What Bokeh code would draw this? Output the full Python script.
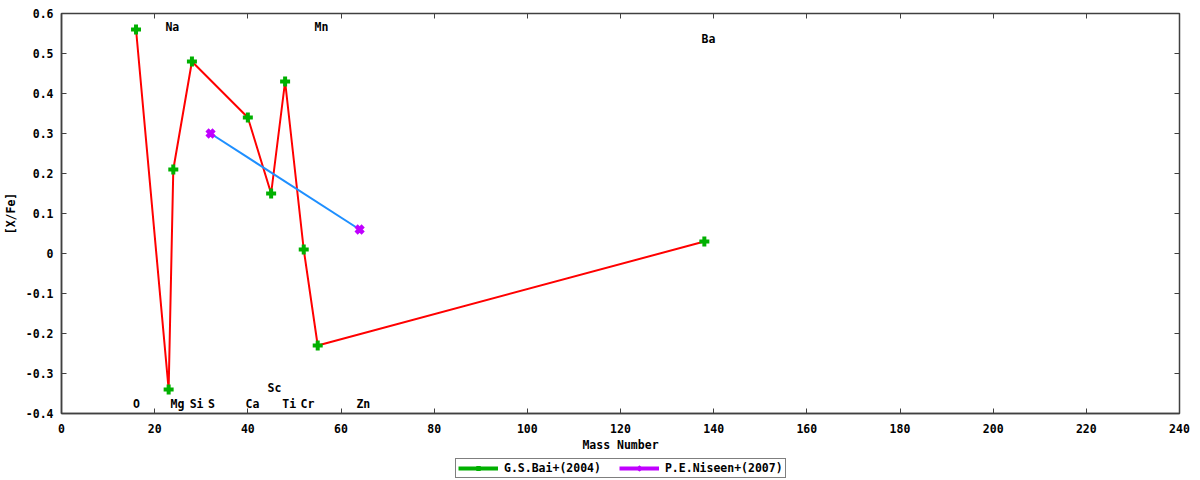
from bokeh.plotting import figure
from bokeh.layouts import column
from bokeh.models import FixedTicker, LinearAxis, Legend, LegendItem, Range1d
from bokeh.core.properties import value
from bokeh.embed import file_html
from bokeh.resources import INLINE

# G.S.Bai+(2004)
bai_mass = [16, 23, 24, 28, 40, 45, 48, 52, 55, 138]
bai_xfe = [0.56, -0.34, 0.21, 0.48, 0.34, 0.15, 0.43, 0.01, -0.23, 0.03]

# P.E.Niseen+(2007)
nis_mass = [32, 64]
nis_xfe = [0.30, 0.06]

# element labels (mass number, [X/Fe] position)
elem_names = ["O", "Na", "Mg", "Si", "S", "Ca", "Sc", "Ti", "Cr", "Mn", "Zn", "Ba"]
elem_x = [16.1, 23.8, 24.9, 29.0, 32.2, 41.0, 45.7, 48.9, 52.8, 55.8, 64.8, 138.9]
elem_y = [-0.375, 0.5675, -0.375, -0.375, -0.375, -0.375, -0.335, -0.375, -0.375, 0.5675, -0.375, 0.5375]

x_ticks = [0, 20, 40, 60, 80, 100, 120, 140, 160, 180, 200, 220, 240]
y_ticks = [-0.4, -0.3, -0.2, -0.1, 0, 0.1, 0.2, 0.3, 0.4, 0.5, 0.6]
y_tick_labels = ["-0.4", "-0.3", "-0.2", "-0.1", "0", "0.1", "0.2", "0.3", "0.4", "0.5", "0.6"]

FONT = "DejaVu Sans Mono"
FS = "11.5px"
GREEN = "#00b000"
MAGENTA = "#c000ff"

p = figure(width=1200, height=457, output_backend="svg", toolbar_location=None,
           x_range=Range1d(0, 240), y_range=Range1d(-0.4, 0.6),
           min_border_left=61, min_border_right=21, min_border_top=13, min_border_bottom=44,
           background_fill_color="white", border_fill_color="white")
p.grid.visible = False
p.outline_line_color = "#404040"
p.outline_line_width = 1.5

for ax in (p.xaxis[0], p.yaxis[0]):
    ax.major_tick_in = 5
    ax.major_tick_out = 0
    ax.minor_tick_line_color = None
    ax.axis_line_color = "#404040"
    ax.axis_line_width = 1.5
    ax.major_tick_line_color = "#404040"
    ax.major_label_text_font = FONT
    ax.major_label_text_font_style = "bold"
    ax.major_label_text_font_size = FS
    ax.major_label_text_color = "black"
    ax.axis_label_text_font = FONT
    ax.axis_label_text_font_style = "bold"
    ax.axis_label_text_font_size = FS
    ax.axis_label_text_color = "black"

p.xaxis[0].ticker = FixedTicker(ticks=x_ticks)
p.xaxis[0].axis_label = "Mass Number"
p.xaxis[0].major_label_standoff = 10
p.xaxis[0].axis_label_standoff = 2
p.yaxis[0].ticker = FixedTicker(ticks=y_ticks)
p.yaxis[0].major_label_overrides = {t: l for t, l in zip(y_ticks, y_tick_labels)}
p.yaxis[0].major_label_standoff = 8
p.yaxis[0].axis_label = "[X/Fe]"
p.yaxis[0].axis_label_standoff = 5

top = LinearAxis(ticker=FixedTicker(ticks=x_ticks), major_label_text_font_size="0px",
                 major_label_standoff=0,
                 major_tick_in=5, major_tick_out=0, minor_tick_line_color=None,
                 axis_line_color=None, major_tick_line_color="#404040")
right = LinearAxis(ticker=FixedTicker(ticks=y_ticks), major_label_text_font_size="0px",
                   major_label_standoff=0,
                   major_tick_in=5, major_tick_out=0, minor_tick_line_color=None,
                   axis_line_color=None, major_tick_line_color="#404040")
p.add_layout(top, "above")
p.add_layout(right, "right")

# connecting lines
p.line(bai_mass, bai_xfe, line_color="#ff0000", line_width=2)
p.line(nis_mass, nis_xfe, line_color="#1e8fff", line_width=2)

# markers
p.scatter(bai_mass, bai_xfe, marker="cross", size=10, line_width=4, line_color=GREEN)
p.scatter(nis_mass, nis_xfe, marker="x", size=10, line_width=4.5, line_color=MAGENTA)

# element labels
p.text(x=elem_x, y=elem_y, text=elem_names, text_align="center", text_baseline="middle",
       text_font=value(FONT), text_font_style="bold", text_font_size=FS, text_color="black")

# legend strip
lg = figure(width=1200, height=23, output_backend="svg", toolbar_location=None,
            x_axis_location=None, y_axis_location=None,
            min_border_left=0, min_border_right=0, min_border_top=0, min_border_bottom=0,
            background_fill_color="white", border_fill_color="white")
lg.grid.visible = False
lg.outline_line_color = None
bai_l = lg.line(bai_mass, bai_xfe, line_color=GREEN, line_width=4, visible=False)
bai_s = lg.scatter(bai_mass, bai_xfe, marker="cross", size=10, line_width=4,
                   line_color=GREEN, visible=False)
nis_l = lg.line(nis_mass, nis_xfe, line_color=MAGENTA, line_width=4, visible=False)
nis_s = lg.scatter(nis_mass, nis_xfe, marker="x", size=10, line_width=4,
                   line_color=MAGENTA, visible=False)

legend = Legend(items=[LegendItem(label="G.S.Bai+(2004)", renderers=[bai_l, bai_s]),
                       LegendItem(label="P.E.Niseen+(2007)", renderers=[nis_l, nis_s])],
                orientation="horizontal", location=(394, 2),
                label_text_font=FONT, label_text_font_style="bold", label_text_font_size=FS,
                label_text_color="black",
                glyph_width=40, glyph_height=12, label_height=12, padding=2, spacing=18,
                margin=0, border_line_color="black", border_line_width=1, label_standoff=6,
                background_fill_alpha=1.0)
lg.add_layout(legend, "center")

open("out.html", "w").write(file_html(column(p, lg, spacing=0), INLINE))
